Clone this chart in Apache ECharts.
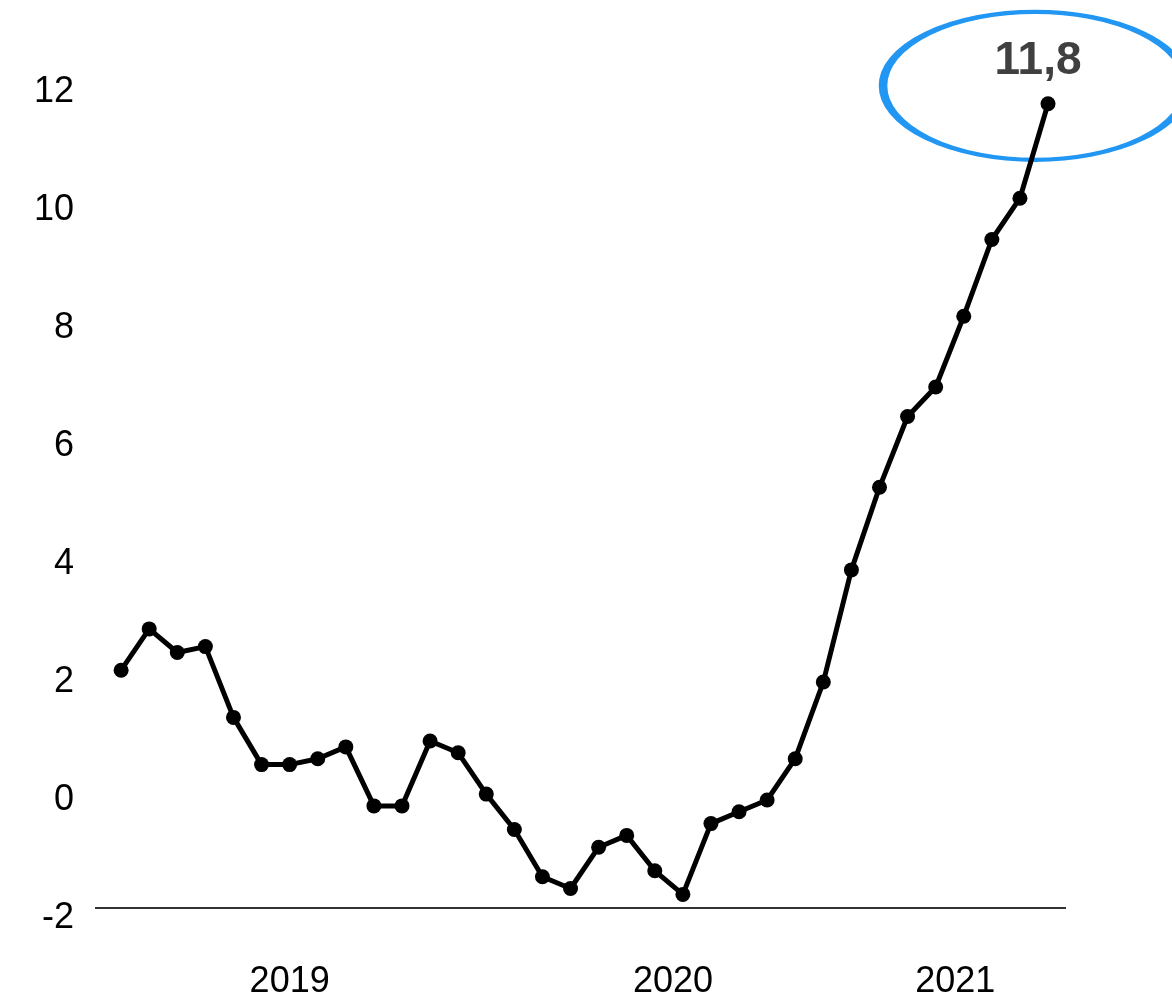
<!DOCTYPE html>
<html>
<head>
<meta charset="utf-8">
<script src="https://cdn.jsdelivr.net/npm/echarts@6/dist/echarts.min.js"></script>
<style>
  html, body { margin: 0; padding: 0; background: #fff; }
  #chart { width: 1172px; height: 995px; }
</style>
</head>
<body>
<div id="chart"></div>
<script>
// monthly values, Jul 2018 .. Apr 2021
const months = [
  '2018-07', '2018-08', '2018-09', '2018-10', '2018-11', '2018-12',
  '2019-01', '2019-02', '2019-03', '2019-04', '2019-05', '2019-06',
  '2019-07', '2019-08', '2019-09', '2019-10', '2019-11', '2019-12',
  '2020-01', '2020-02', '2020-03', '2020-04', '2020-05', '2020-06',
  '2020-07', '2020-08', '2020-09', '2020-10', '2020-11', '2020-12',
  '2021-01', '2021-02', '2021-03', '2021-04'
]
const values = [
  2.2, 2.9, 2.5, 2.6, 1.4, 0.6, 0.6, 0.7, 0.9, -0.1, -0.1, 1.0,
  0.8, 0.1, -0.5, -1.3, -1.5, -0.8, -0.6, -1.2, -1.6, -0.4, -0.2, 0.0,
  0.7, 2.0, 3.9, 5.3, 6.5, 7.0, 8.2, 9.5, 10.2, 11.8
]
const yTicks = [-2, 0, 2, 4, 6, 8, 10, 12]
const yearLabels = ['2019', '2020', '2021']
const yearLabelAt = [6, 19.65, 29.7] // in month steps from the first point

const last = values.length - 1
const seriesData = values.map((v, i) => {
  const item = { value: [i, v], name: months[i] }
  if (i === last) {
    item.label = {
      show: true,
      position: 'top',
      distance: 12,
      offset: [-10, 0],
      formatter: String(v).replace('.', ','),
      fontSize: 46,
      fontWeight: 'bold',
      color: '#404040',
      fontFamily: 'Liberation Sans'
    }
  }
  return item
})

const chart = echarts.init(document.getElementById('chart'))
chart.setOption({
  animation: false,
  textStyle: { fontFamily: 'Liberation Sans' },
  grid: { left: 95, right: 106, top: 92, bottom: 77, outerBoundsMode: 'none', containLabel: false },
  xAxis: {
    type: 'value',
    min: -0.93,
    max: 33.64,
    splitLine: { show: false },
    axisLine: { show: false },
    axisTick: { show: false },
    axisLabel: {
      customValues: yearLabelAt,
      margin: 46,
      fontSize: 36,
      color: '#000',
      formatter: v => {
        const k = yearLabelAt.indexOf(v)
        return k >= 0 ? yearLabels[k] : ''
      }
    }
  },
  yAxis: {
    type: 'value',
    min: yTicks[0],
    max: yTicks[yTicks.length - 1],
    interval: 2,
    splitLine: { show: false },
    axisLine: { show: false },
    axisTick: { show: false },
    axisLabel: { margin: 21, fontSize: 36, color: '#000', padding: [6, 0, 0, 0] }
  },
  series: [
    {
      type: 'line',
      data: seriesData,
      symbol: 'circle',
      symbolSize: 15,
      showSymbol: true,
      lineStyle: { color: '#000', width: 5 },
      itemStyle: { color: '#000' },
      clip: false,
      markLine: {
        silent: true,
        symbol: 'none',
        label: { show: false },
        lineStyle: { color: '#333', width: 2, type: 'solid' },
        data: [{ yAxis: -1.83 }]
      },
      markPoint: {
        silent: true,
        z: 1,
        symbol: 'circle',
        symbolSize: [304, 148],
        symbolOffset: [-13, -18],
        itemStyle: { color: 'rgba(0,0,0,0)', borderColor: '#2196f3', borderWidth: 6 },
        label: { show: false },
        data: [{ coord: [last, values[last]] }]
      }
    }
  ]
})
</script>
</body>
</html>
